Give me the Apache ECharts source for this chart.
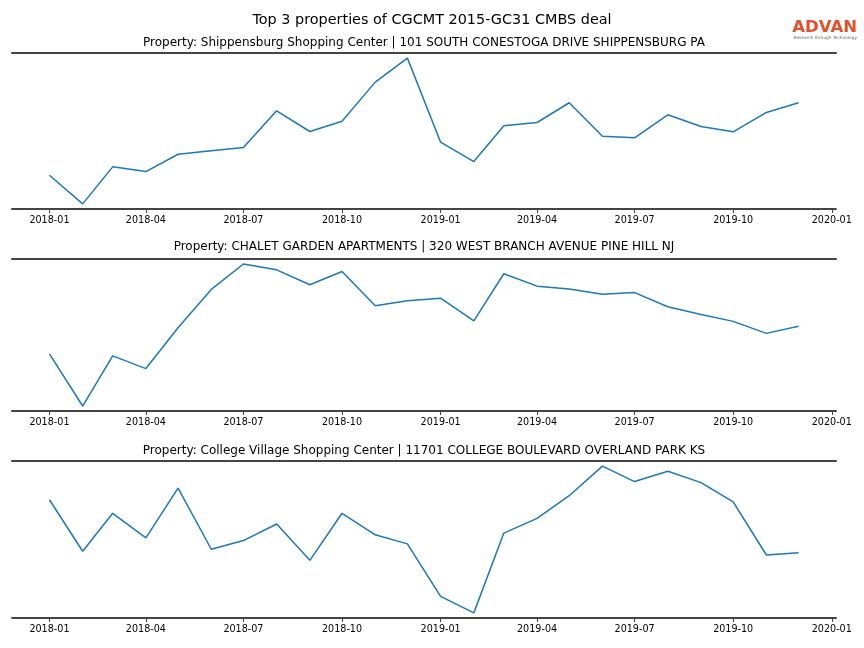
<!DOCTYPE html>
<html><head><meta charset="utf-8">
<script src="https://cdn.jsdelivr.net/npm/echarts@6/dist/echarts.min.js"></script>
<style>html,body{margin:0;padding:0;background:#fff}#c{width:864px;height:648px}</style>
</head><body><div id="c"></div>
<script>
const months = ['2018-01','2018-02','2018-03','2018-04','2018-05','2018-06','2018-07','2018-08','2018-09','2018-10','2018-11','2018-12',
  '2019-01','2019-02','2019-03','2019-04','2019-05','2019-06','2019-07','2019-08','2019-09','2019-10','2019-11','2019-12'];
const tickLabels = ['2018-01','2018-04','2018-07','2018-10','2019-01','2019-04','2019-07','2019-10','2020-01'];
const mainTitle = 'Top 3 properties of CGCMT 2015-GC31 CMBS deal';
const subTitles = [
  'Property: Shippensburg Shopping Center | 101 SOUTH CONESTOGA DRIVE SHIPPENSBURG PA',
  'Property: CHALET GARDEN APARTMENTS | 320 WEST BRANCH AVENUE PINE HILL NJ',
  'Property: College Village Shopping Center | 11701 COLLEGE BOULEVARD OVERLAND PARK KS'
];
const shippensburg = [33.3,4.7,41.7,37,54.3,57.7,61,97.7,77,87.3,126.3,150.3,66.3,47,82.7,86,105.7,72.3,70.7,93.7,82,76.7,96,105.7];
const chalet = [56,2.7,54,41,82.7,122,148,142,126.7,140.3,105.3,110.3,113,89.7,138,125.3,122.3,117,118.7,104.3,96.3,89.3,77,84.3];
const college = [117.4,66.4,104,79.7,129,68.4,77,93.4,57.4,104,82.7,73.7,21.7,5.4,84.4,99,121.4,150.7,135.4,145.7,134.4,115.4,62.7,65];
const seriesList = [shippensburg, chalet, college];

function toTs(s){ const p=s.split('-'); return Date.UTC(+p[0], +p[1]-1, 1); }
const firstTs = toTs(months[0]), lastTs = toTs(months[months.length-1]);
const xpad = (lastTs-firstTs)*0.05;
const tickTs = tickLabels.map(toTs);
function fmt(v){ const i = tickTs.indexOf(v); if (i>=0) return tickLabels[i]; const d=new Date(v); const m=d.getUTCMonth()+1; return d.getUTCFullYear()+'-'+(m<10?'0'+m:m); }

const grids = [{top:53,height:156},{top:259,height:152},{top:461,height:157}];
const titleY = [37,241,445];
const chart = echarts.init(document.getElementById('c'), null, {renderer:'canvas'});
const FONT = 'DejaVu Sans';
const option = {
  animation:false,
  title: [{text: mainTitle, left:432, textAlign:'center', top:13, padding:0, textStyle:{fontFamily:FONT,fontSize:14.4,fontWeight:'normal',color:'#000'}}]
    .concat(subTitles.map((t,i)=>({text:t, left:424, textAlign:'center', top:titleY[i], padding:0, textStyle:{fontFamily:FONT,fontSize:12,fontWeight:'normal',color:'#000'}}))),
  grid: grids.map(g=>({left:12,right:28,top:g.top,height:g.height,containLabel:false})),
  xAxis: [],
  yAxis: [],
  series: [],
  graphic: [
    {type:'text', right:7, top:19, style:{text:'ADVAN', fill:'#e2512b', font:'bold 16.5px "DejaVu Sans"'}},
    {type:'text', right:7, top:36, style:{text:'Research through Technology', fill:'#666', font:'4.3px "DejaVu Sans"'}}
  ]
};
seriesList.forEach((vals,i)=>{
  const mn=Math.min(...vals), mx=Math.max(...vals), r=mx-mn;
  option.xAxis.push({type:'value', gridIndex:i, min:firstTs-xpad, max:lastTs+xpad, position:'bottom',
    axisLine:{show:true,onZero:false,lineStyle:{color:'#444',width:2}},
    axisTick:{show:true,customValues:tickTs,length:4,lineStyle:{color:'#444',width:1}},
    axisLabel:{show:true,customValues:tickTs,formatter:fmt,fontFamily:FONT,fontSize:9.6,color:'#000',margin:6,hideOverlap:false,showMinLabel:true,showMaxLabel:true},
    splitLine:{show:false}});
  option.xAxis.push({type:'value', gridIndex:i, min:firstTs-xpad, max:lastTs+xpad, position:'top',
    axisLine:{show:true,onZero:false,lineStyle:{color:'#444',width:2}},
    axisTick:{show:false}, axisLabel:{show:false}, splitLine:{show:false}});
  option.yAxis.push({type:'value', gridIndex:i, min:mn-r*0.035, max:mx+r*0.035, show:false, splitLine:{show:false}});
  option.series.push({type:'line', xAxisIndex:2*i, yAxisIndex:i, showSymbol:false, symbol:'none',
    lineStyle:{color:'#1f77b4',width:1.5}, data: months.map((m,j)=>[toTs(m), vals[j]])});
});
chart.setOption(option);
</script></body></html>
